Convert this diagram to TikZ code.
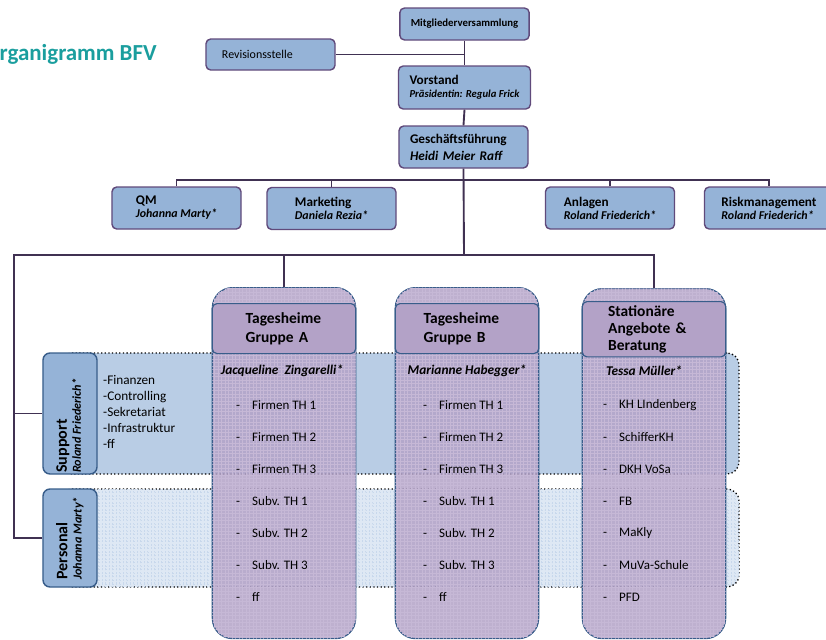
\documentclass[tikz,border=0pt]{standalone}
\usepackage{fontspec}
\setmainfont{Carlito}
\usetikzlibrary{positioning,patterns}

\definecolor{boxfill}{RGB}{149,179,215}
\definecolor{boxline}{RGB}{96,74,123}
\definecolor{connline}{RGB}{64,49,82}
\definecolor{colfill}{RGB}{179,162,199}
\definecolor{colline}{RGB}{56,93,138}
\definecolor{colgrid}{RGB}{198,184,214}
\definecolor{supfill}{RGB}{185,205,229}
\definecolor{persfill}{RGB}{222,232,244}
\definecolor{persgrid}{RGB}{200,216,236}
\definecolor{titlecol}{RGB}{26,158,158}

\begin{document}
\begin{tikzpicture}[x=0.03cm, y=-0.03cm,
      orgbox/.style={draw=boxline, fill=boxfill, line width=1.2pt, rounded corners=4pt, minimum width=3.87cm, align=left, inner xsep=0.33cm},
      staffbox/.style={orgbox, minimum height=1.26cm, font=\fontsize{11.3}{13}\selectfont\bfseries},
      sidebox/.style={draw=colline, fill=boxfill, line width=1.2pt, rounded corners=6pt, minimum width=1.62cm},
      bandbox/.style={draw=black, dotted, line width=1.1pt, rounded corners=0.36cm, minimum width=20.37cm},
      groupcol/.style={draw=colline, line width=1pt, fill=colfill, fill opacity=0.85, rounded corners=0.6cm, minimum width=4.3cm, anchor=north, postaction={pattern=grid, pattern color=colgrid}},
      colhead/.style={draw=colline, line width=1pt, fill=colfill, rounded corners=4pt, minimum width=4.3cm, anchor=north, align=left, font=\fontsize{13.2}{16}\selectfont\bfseries},
      namelabel/.style={font=\fontsize{11.4}{13}\selectfont\bfseries\itshape},
      itemtext/.style={anchor=west, inner sep=0pt, font=\fontsize{11.1}{13}\selectfont},
      sidelabel/.style={rotate=90, anchor=north west, align=left, inner sep=0pt},
      conn/.style={draw=connline, line width=1.6pt}]
      \useasboundingbox (0,0) rectangle (826,640);

      % Title
      \node[anchor=base east, inner sep=0pt, text=titlecol, font=\fontsize{19.6}{22}\selectfont\bfseries] (title) at (157,60) {Organigramm BFV};

      % Bands
      \node[bandbox, fill=supfill, minimum height=3.63cm] (supband) at (399.5,413.5) {};
      \node[bandbox, fill=persfill, minimum height=2.94cm, postaction={pattern=grid, pattern color=persgrid}] (persband) at (399.5,538) {};

      % Top
      \node[orgbox, minimum height=0.96cm, font=\fontsize{9.2}{11}\selectfont\bfseries] (mv) at (464.5,24) {Mitgliederversammlung};
      \node[orgbox, minimum height=0.93cm, text width=2.91cm, inner xsep=0.48cm, font=\fontsize{10.2}{12}\selectfont] (rev) at (270.5,54.5) {Revisionsstelle};
      \node[orgbox, minimum height=1.29cm] (vorstand) at (464.5,87.5) {{\fontsize{11.3}{13}\selectfont\bfseries Vorstand}\\[-1pt]{\fontsize{9.1}{11}\selectfont\bfseries\itshape Pr\"asidentin: Regula Frick}};
      \node[orgbox, minimum height=1.26cm, text width=3.21cm, font=\fontsize{11.3}{14.5}\selectfont\bfseries] (gf) at (463.5,147) {Gesch\"aftsf\"uhrung\\\itshape Heidi Meier Raff};

      % Staff
      \node[staffbox] (qm)   at (176.5,208) {QM\\[-2pt]{\fontsize{10.2}{12}\selectfont\itshape Johanna Marty*}};
      \node[staffbox] (mk)   at (331.5,208.5) {Marketing\\[-2pt]{\fontsize{10.2}{12}\selectfont\itshape Daniela Rezia*}};
      \node[staffbox] (anl)  at (610,208) {Anlagen\\[-2pt]{\fontsize{10.2}{12}\selectfont\itshape Roland Friederich*}};
      \node[staffbox] (risk) at (769,208) {Riskmanagement\\[-2pt]{\fontsize{10.2}{12}\selectfont\itshape Roland Friederich*}};

      % Columns
      \node[groupcol, minimum height=10.53cm] (cola) at (284,287) {};
      \node[groupcol, minimum height=10.53cm] (colb) at (467,287) {};
      \node[groupcol, minimum height=10.5cm]  (colc) at (654,288) {};
      \node[colhead, minimum height=1.5cm, text width=2.3cm]  (heada) at (284,303) {Tagesheime\\Gruppe A};
      \node[colhead, minimum height=1.5cm, text width=2.6cm]  (headb) at (467,303) {Tagesheime\\Gruppe B};
      \node[colhead, minimum height=1.56cm, text width=2.75cm, font=\fontsize{13.2}{14.5}\selectfont\bfseries] (headc) at (654,301) {Station\"are\\Angebote \&\\Beratung};
      \node[namelabel] (namea) at (282,371) {Jacqueline\ \ Zingarelli*};
      \node[namelabel] (nameb) at (467,371) {Marianne Habegger*};
      \node[namelabel] (namec) at (644,371) {Tessa M\"uller*};
      \foreach \txt [count=\i] in {Firmen TH 1,Firmen TH 2,Firmen TH 3,Subv. TH 1,Subv. TH 2,Subv. TH 3,ff}
        \node[itemtext] (a\i) at (236,373+32*\i) {\makebox[0.48cm][l]{-}\txt};
      \foreach \txt [count=\i] in {Firmen TH 1,Firmen TH 2,Firmen TH 3,Subv. TH 1,Subv. TH 2,Subv. TH 3,ff}
        \node[itemtext] (b\i) at (423,373+32*\i) {\makebox[0.48cm][l]{-}\txt};
      \foreach \txt [count=\i] in {KH LIndenberg,SchifferKH,DKH VoSa,FB,MaKly,MuVa-Schule,PFD}
        \node[itemtext] (c\i) at (603,373+32*\i) {\makebox[0.48cm][l]{-}\txt};

      % Support / Personal
      \node[sidebox, minimum height=3.63cm] (sup)  at (70,413.5) {};
      \node[sidebox, minimum height=2.94cm] (pers) at (70,538) {};
      \node[sidelabel] (suplabel) at (56,473) {{\fontsize{13.7}{15}\selectfont\bfseries Support}\\{\fontsize{10.4}{12}\selectfont\bfseries\itshape Roland Friederich*}};
      \node[sidelabel] (perslabel) at (56,580) {{\fontsize{13.7}{15}\selectfont\bfseries Personal}\\{\fontsize{10.4}{12}\selectfont\bfseries\itshape Johanna Marty*}};
      \node[anchor=west, align=left, inner sep=0pt, font=\fontsize{11.3}{13.6}\selectfont] (suplist) at (103,412) {-Finanzen\\-Controlling\\-Sekretariat\\-Infrastruktur\\-ff};

      % Lines
      \coordinate (staffbar) at (464,180);
      \coordinate (mainbar)  at (464,255);
      \coordinate (leftrail) at (14,255);
      \draw[conn] (mv.south) -- (vorstand.north);
      \draw[conn] (rev.east) -- (rev.east -| mv.south);
      \draw[conn] (vorstand.south) -- (gf.north);
      \draw[conn] (gf.south) -- (mainbar);
      \draw[conn] (qm.north) -- (qm.north |- staffbar) -- (risk.north |- staffbar) -- (risk.north);
      \draw[conn] (mk.north) -- (mk.north |- staffbar);
      \draw[conn] (anl.north) -- (anl.north |- staffbar);
      \draw[conn] (sup.west) -| (leftrail) -- (colc.north |- leftrail) -- (colc.north);
      \draw[conn] (pers.west) -| (leftrail);
      \draw[conn] (cola.north) -- (cola.north |- leftrail);

    \end{tikzpicture}
\end{document}
